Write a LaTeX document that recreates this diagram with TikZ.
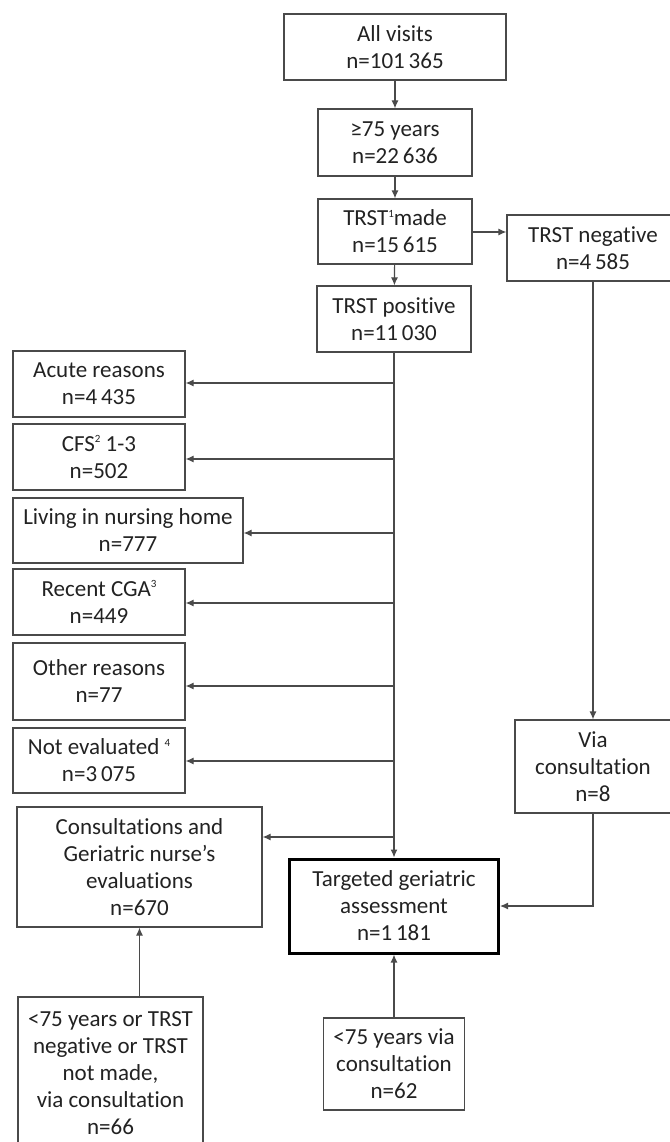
\documentclass[tikz,border=0pt]{standalone}
\usepackage{fontspec}
\setmainfont{Carlito}[Ligatures={NoCommon,NoRare,NoDiscretionary}]
\usetikzlibrary{arrows.meta}
\definecolor{linegray}{HTML}{4A4A4A}
\definecolor{textgray}{HTML}{222222}
\newcommand\supmark[1]{\raisebox{0.8ex}{\fontsize{11}{11}\selectfont #1}}
\begin{document}
\begin{tikzpicture}[x=1pt,y=-1pt,
  box/.style={draw=linegray, line width=1.2pt, align=center, inner sep=0pt,
    text=textgray, font=\fontsize{23}{27}\selectfont},
  thickbox/.style={box, draw=black, line width=3pt},
  arr/.style={draw=linegray, line width=1.2pt, -{Latex[length=8pt,width=7pt]}}]
\useasboundingbox (0,0) rectangle (669,1142);
% top column
\node[box, minimum width=222pt, minimum height=66pt] (all) at (395,47) {All visits\\n=101\,365};
\node[box, minimum width=154pt, minimum height=67pt] (age) at (395,142.5) {≥75 years\\n=22\,636};
\node[box, minimum width=154pt, minimum height=65pt] (made) at (395,231.5) {TRST\supmark{1}made\\n=15\,615};
\node[box, minimum width=172pt, minimum height=66pt] (neg) at (593,248) {TRST negative\\n=4\,585};
\node[box, minimum width=154pt, minimum height=66pt] (pos) at (394,319) {TRST positive\\n=11\,030};
% exclusions
\node[box, minimum width=172pt, minimum height=66pt] (acute) at (99,384) {Acute reasons\\n=4\,435};
\node[box, minimum width=172pt, minimum height=66pt] (cfs) at (99,457) {CFS\supmark{2} 1-3\\n=502};
\node[box, minimum width=230pt, minimum height=65pt] (living) at (128,530.5) {Living in nursing home\\n=777};
\node[box, minimum width=172pt, minimum height=66pt] (cga) at (99,602) {Recent CGA\supmark{3}\\n=449};
\node[box, minimum width=172pt, minimum height=77pt] (other) at (99,681.5) {Other reasons\\n=77};
\node[box, minimum width=172pt, minimum height=65pt] (noteval) at (99,760.5) {Not evaluated \supmark{4}\\n=3\,075};
\node[box, minimum width=245pt, minimum height=120pt] (consult) at (139.5,867) {Consultations and\\Geriatric nurse’s\\evaluations\\n=670};
% outcome
\node[thickbox, minimum width=209pt, minimum height=94pt] (target) at (394,906) {Targeted geriatric\\assessment\\n=1\,181};
\node[box, minimum width=156pt, minimum height=93pt] (via) at (593,766.5) {Via\\consultation\\n=8};
\node[box, minimum width=185pt, minimum height=152pt] (lta) at (110.5,1073) {<75 years or TRST\\negative or TRST\\not made,\\via consultation\\n=66};
\node[box, minimum width=141pt, minimum height=92pt] (ltb) at (394,1064) {<75 years via\\consultation\\n=62};
% connectors
\draw[arr] (all) -- (age);
\draw[arr] (age) -- (made);
\draw[arr] (made) -- (pos);
\draw[arr] (made.east |- 0,232) -- (neg.west |- 0,232);
\draw[arr] (neg) -- (via);
\draw[arr] (pos) -- (target);
\coordinate (b1) at (394,383);
\coordinate (b2) at (394,459);
\coordinate (b3) at (394,533);
\coordinate (b4) at (394,603);
\coordinate (b5) at (394,686);
\coordinate (b6) at (394,761);
\coordinate (b7) at (394,837);
\draw[arr] (b1) -- (b1 -| acute.east);
\draw[arr] (b2) -- (b2 -| cfs.east);
\draw[arr] (b3) -- (b3 -| living.east);
\draw[arr] (b4) -- (b4 -| cga.east);
\draw[arr] (b5) -- (b5 -| other.east);
\draw[arr] (b6) -- (b6 -| noteval.east);
\draw[arr] (b7) -- (b7 -| consult.east);
\draw[arr] (via.south) |- (target.east);
\draw[arr] (consult.south |- lta.north) -- (consult.south);
\draw[arr] (ltb) -- (target);
\end{tikzpicture}
\end{document}
